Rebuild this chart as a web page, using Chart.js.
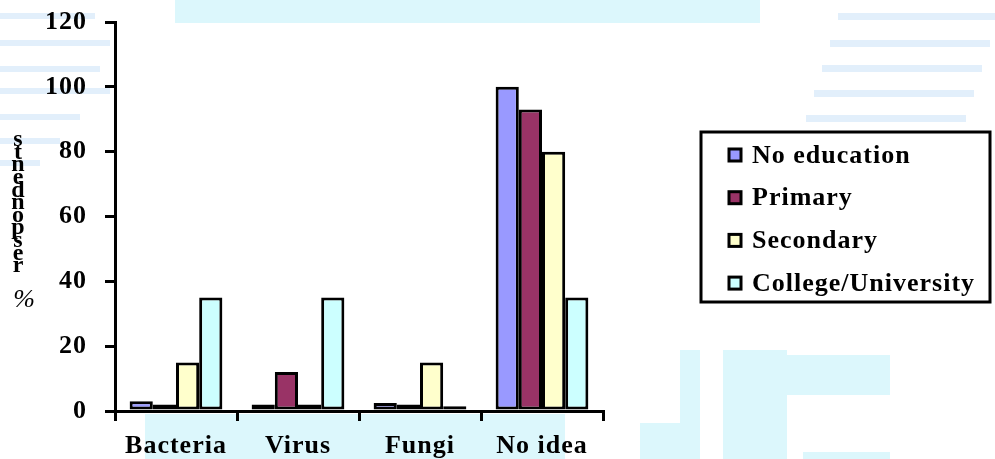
<!DOCTYPE html>
<html>
<head>
<meta charset="utf-8">
<script src="https://cdn.jsdelivr.net/npm/chart.js@4.4.1/dist/chart.umd.min.js"></script>
<style>
  body { margin: 0; background: #fff; }
  #wrap { width: 995px; height: 459px; position: relative; }
</style>
</head>
<body>
<div id="wrap"><canvas id="myChart" width="995" height="459"></canvas></div>
<script>
// data (% respondents)
const categories = ['Bacteria', 'Virus', 'Fungi', 'No idea'];
const seriesNames = ['No education', 'Primary', 'Secondary', 'College/University'];
const noEducation = [3, 2, 2.5, 100];
const primary = [2, 12, 2, 93];
const secondary = [15, 2, 15, 80];
const college = [35, 35, 1.5, 35];
const yTicks = [0, 20, 40, 60, 80, 100, 120];
const yTitle = 'respondents';

const colors = ['#9999FF', '#993366', '#FFFFCC', '#CCFFFF'];
const FONT = "'Liberation Serif', 'Times New Roman', serif";

// faint watermark behind the chart
const backdrop = {
    id: 'backdrop',
    beforeDraw(chart) {
        const c = chart.ctx;
        c.save();
        c.fillStyle = '#fff';
        c.fillRect(0, 0, chart.width, chart.height);
        c.fillStyle = '#dcf7fc';
        c.fillRect(175, 0, 585, 23);
        c.fillRect(145, 414, 420, 45);
        c.fillRect(640, 423, 40, 36);
        c.fillRect(680, 350, 20, 109);
        c.fillRect(723, 350, 64, 109);
        c.fillRect(787, 355, 103, 40);
        c.fillRect(803, 452, 87, 7);
        c.fillStyle = '#e2effb';
        [[13, 95], [40, 110], [66, 100], [88, 110], [114, 80], [138, 60], [160, 40]].forEach(function(r) { c.fillRect(0, r[0], r[1], 6); });
        [13, 40, 65, 90, 115].forEach(function(y, i) { c.fillRect(838 - i * 8, y, 160, 7); });
        c.restore();
        chart.ctx.letterSpacing = '1px';
    }
};

// stacked title letters + boxed legend on the right
const extras = {
    id: 'extras',
    afterDraw(chart) {
        const c = chart.ctx;
        c.save();
        c.fillStyle = '#000';
        c.font = 'bold 24px ' + FONT;
        c.textAlign = 'center';
        c.textBaseline = 'top';
        c.letterSpacing = '0px';
        const rev = yTitle.split('').reverse();
        rev.forEach(function(ch, i) { c.fillText(ch, 18, 128 + i * 12.6); });
        c.font = 'italic 26px ' + FONT;
        c.fillText('%', 24, 287);

        // legend
        c.lineWidth = 3;
        c.strokeStyle = '#000';
        c.strokeRect(701, 132, 289, 170);
        c.font = 'bold 26px ' + FONT;
        c.textAlign = 'left';
        c.textBaseline = 'middle';
        c.letterSpacing = '1px';
        chart.data.datasets.forEach(function(ds, i) {
            const y = 155 + i * 42.7;
            c.fillStyle = ds.backgroundColor;
            c.fillRect(729, y - 6, 12, 12);
            c.lineWidth = 3;
            c.strokeRect(729, y - 6, 12, 12);
            c.fillStyle = '#000';
            c.fillText(ds.label, 752, y + 1);
        });
        c.restore();
        c.letterSpacing = '0px';
    }
};

const allValues = [noEducation, primary, secondary, college];
const datasets = seriesNames.map(function(name, i) {
    return {
        label: name,
        data: allValues[i],
        backgroundColor: colors[i],
        borderColor: '#000',
        borderWidth: 3,
        borderSkipped: false,
        categoryPercentage: 0.76,
        barPercentage: 1.0
    };
});

const ctx = document.getElementById('myChart').getContext('2d');
const myChart = new Chart(ctx, {
    type: 'bar',
    data: { labels: categories, datasets: datasets },
    options: {
        responsive: false,
        animation: false,
        layout: { padding: { top: 22, right: 392, bottom: 0, left: 0 } },
        plugins: {
            legend: { display: false },
            tooltip: { enabled: false }
        },
        scales: {
            x: {
                grid: { offset: true, drawOnChartArea: false, drawTicks: true, tickLength: 10, color: '#000', lineWidth: 3 },
                border: { color: '#000', width: 3 },
                ticks: { color: '#000', padding: 10, font: { family: FONT, size: 26, weight: 'bold' } },
                afterFit: function(s) { s.height = 48; s.paddingLeft = 0; s.paddingRight = 0; }
            },
            y: {
                min: 0,
                max: 120,
                afterBuildTicks: function(s) { s.ticks = yTicks.map(function(v) { return { value: v }; }); },
                grid: { drawOnChartArea: false, drawTicks: true, tickLength: 10, color: '#000', lineWidth: 3 },
                border: { color: '#000', width: 3 },
                ticks: { color: '#000', padding: 18, font: { family: FONT, size: 26, weight: 'bold' } },
                afterFit: function(s) { s.width = 115; s.paddingTop = 0; s.paddingBottom = 0; }
            }
        }
    },
    plugins: [backdrop, extras]
});
</script>
</body>
</html>
